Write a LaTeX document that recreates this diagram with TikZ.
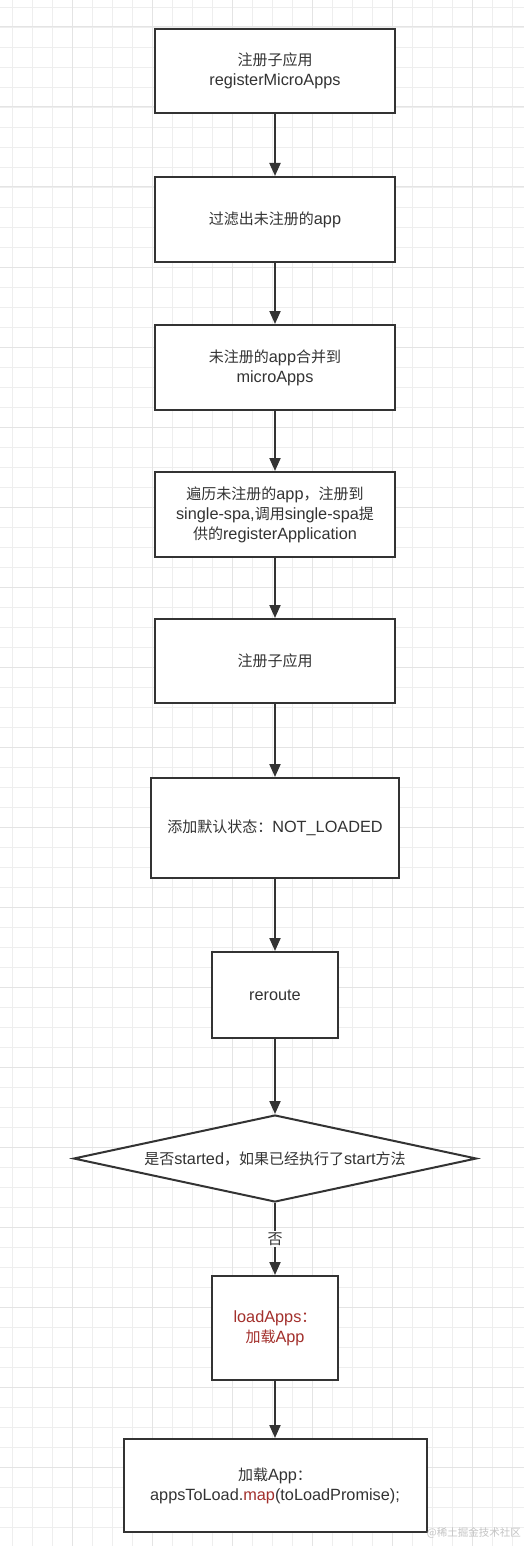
\documentclass[tikz,border=0pt]{standalone}
\usepackage{fontspec}
\setmainfont{Liberation Sans}[Scale=1.085]
\newfontfamily\cjk{Noto Sans CJK SC}
\usetikzlibrary{positioning, arrows.meta, shapes.geometric}
\definecolor{LineA}{HTML}{333333}
\definecolor{TextA}{HTML}{333333}
\definecolor{RedA}{HTML}{A3302C}
\definecolor{GridA}{HTML}{EEEEEE}
\definecolor{GridB}{HTML}{E4E4E4}
\definecolor{MarkA}{HTML}{C4C4C4}
\tikzset{
  stepbox/.style={draw=LineA, line width=2pt, fill=white, align=center,
                  font=\fontsize{15}{20}\selectfont, text=TextA, inner sep=4pt},
  decide/.style={diamond, draw=LineA, line width=2pt, fill=white, inner sep=0pt,
                 aspect=4.66, minimum width=403pt, minimum height=87pt,
                 font=\fontsize{15}{20}\selectfont, text=TextA},
  arr/.style={-{Triangle[length=13pt, width=11pt]}, line width=2pt, draw=LineA},
  lbl/.style={font=\fontsize{15}{18}\selectfont, text=TextA, fill=white, inner sep=2pt},
  gridminor/.style={draw=GridA, line width=0.8pt},
  gridmajor/.style={draw=GridB, line width=1pt},
}
\newcommand{\zh}[1]{{\cjk #1}}
\begin{document}
\begin{tikzpicture}[x=1pt, y=-1pt]
  % ---- paper and grid ----
  \fill[white] (0,0) rectangle (524,1546);
  \useasboundingbox (0,0) rectangle (524,1546);
  \foreach \gx in {12,32,...,524} \draw[gridminor] (\gx,0) -- (\gx,1546);
  \foreach \gy in {7,27,...,1546} \draw[gridminor] (0,\gy) -- (524,\gy);
  \foreach \gx in {72,152,...,524} \draw[gridmajor] (\gx,0) -- (\gx,1546);
  \foreach \gy in {27,107,...,1546} \draw[gridmajor] (0,\gy) -- (524,\gy);

  % ---- steps ----
  \node[stepbox, minimum width=240pt, minimum height=84pt] (reg)    at (275,71)
       {\zh{注册子应用}\\registerMicroApps};
  \node[stepbox, minimum width=240pt, minimum height=85pt] (filter) at (275,219.5)
       {\zh{过滤出未注册的}app};
  \node[stepbox, minimum width=240pt, minimum height=85pt] (merge)  at (275,367.5)
       {\zh{未注册的}app\zh{合并到}\\microApps};
  \node[stepbox, minimum width=240pt, minimum height=85pt] (loop)   at (275,514.5)
       {\zh{遍历未注册的}app\zh{，注册到}\\single-spa,\zh{调用}single-spa\zh{提}\\\zh{供的}registerApplication};
  \node[stepbox, minimum width=240pt, minimum height=84pt] (sub)    at (275,661)
       {\zh{注册子应用}};
  \node[stepbox, minimum width=248pt, minimum height=100pt] (state) at (275,828)
       {\zh{添加默认状态：}NOT\_LOADED};
  \node[stepbox, minimum width=126pt, minimum height=86pt] (route)  at (275,995)
       {reroute};

  % ---- decision ----
  \node[decide] (started) at (275,1158.5)
       {\zh{是否}started\zh{，如果已经执行了}start\zh{方法}};

  \node[stepbox, minimum width=126pt, minimum height=104pt, text=RedA] (load) at (275,1328)
       {loadApps\zh{：}\\\zh{加载}App};
  \node[stepbox, minimum width=303pt, minimum height=93pt] (map) at (275,1485.5)
       {\zh{加载}App\zh{：}\\appsToLoad.\textcolor{RedA}{map}(toLoadPromise);};

  % ---- connectors ----
  \draw[arr] (reg)    -- (filter);
  \draw[arr] (filter) -- (merge);
  \draw[arr] (merge)  -- (loop);
  \draw[arr] (loop)   -- (sub);
  \draw[arr] (sub)    -- (state);
  \draw[arr] (state)  -- (route);
  \draw[arr] (route)  -- (started);
  \draw[arr] (started) -- node[lbl, pos=0.5]{\zh{否}} (load);
  \draw[arr] (load)   -- (map);

  % ---- watermark ----
  \node[font=\fontsize{10.5}{12}\selectfont\cjk, text=MarkA, anchor=east, inner sep=0pt] (mark)
       at (521,1533) {@稀土掘金技术社区};
\end{tikzpicture}
\end{document}
